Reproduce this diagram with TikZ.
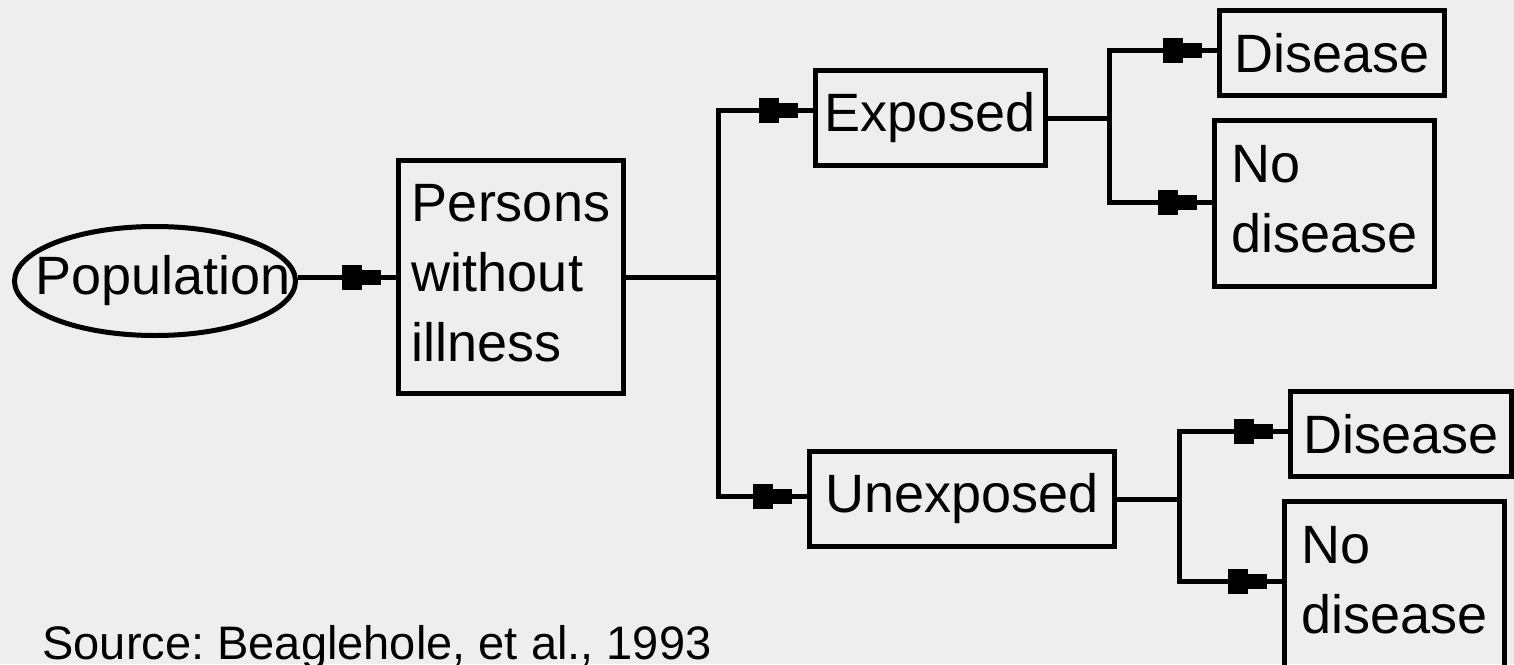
\documentclass[tikz,border=0pt]{standalone}
\usepackage{fontspec}
\setmainfont{Liberation Sans}
\usetikzlibrary{shapes.geometric,decorations.markings}
\definecolor{paper}{RGB}{238,238,238}
\frenchspacing
\begin{document}
\begin{tikzpicture}[x=0.5pt,y=-0.5pt,
  line width=2.5pt,
  every node/.style={font=\fontsize{27pt}{35pt}\selectfont, inner sep=2pt},
  pbox/.style={draw, rectangle, align=left},
  pellipse/.style={draw, ellipse, inner sep=0pt},
  % double block marker placed a short way before the end of the line
  tipped/.style={postaction={decorate}, decoration={markings,
    mark=at position -7.5pt with {
      \fill (-9.5pt,-3.75pt) rectangle (0pt,3.75pt);
      \fill (-19.5pt,-6.25pt) rectangle (-9.5pt,6.25pt);}}}]
\useasboundingbox (0,0) rectangle (1514,664);
\fill[paper] (0,0) rectangle (1514,664);
\clip (0,0) rectangle (1514,664);

% nodes
\node[pellipse, minimum width=140.5pt, minimum height=54.5pt] (pop) at (155,281)
  {\makebox[0pt]{\hspace*{8pt}Population}};
\node[pbox, minimum width=112.5pt, minimum height=116.5pt] (box1) at (511,277)
  {Persons\\without\\illness\rule[-4pt]{0pt}{4pt}};
\node[pbox, minimum width=115pt, minimum height=47.5pt] (expo) at (930,118) {Exposed};
\node[pbox, minimum width=152.5pt, minimum height=47.5pt] (unexp) at (962,499) {Unexposed};
\node[pbox, minimum width=112.5pt, minimum height=42.5pt] (dis1) at (1332,53) {Disease};
\node[pbox, minimum width=110pt, minimum height=83pt] (nodis1) at (1324.5,203.5)
  {No\\disease\rule[-5pt]{0pt}{5pt}};
\node[pbox, minimum width=110.5pt, minimum height=42.5pt] (dis2) at (1401,434) {Disease};
\node[pbox, minimum width=110pt, minimum height=83pt] (nodis2) at (1394.5,584.5)
  {No\\disease\rule[-5pt]{0pt}{5pt}};
\node[anchor=base west, font=\fontsize{23.5pt}{28pt}\selectfont, inner sep=0pt] (src) at (40,659)
  {Source: Beaglehole, et al., 1993};

% branch points
\coordinate (f1) at (718.5,277);
\coordinate (f1a) at (718.5,110.5);
\coordinate (f1b) at (718.5,496);
\coordinate (f2) at (1109.5,118);
\coordinate (f2a) at (1109.5,50.5);
\coordinate (f2b) at (1109.5,202);
\coordinate (f3) at (1179.5,499);
\coordinate (f3a) at (1179.5,431.5);
\coordinate (f3b) at (1179.5,581.5);

% connectors
\draw[tipped] (pop.east |- box1.west) -- (box1.west);
\draw (box1.east) -- (f1);
\draw[tipped] (f1) -- (f1a) -- (f1a -| expo.west);
\draw[tipped] (f1) -- (f1b) -- (f1b -| unexp.west);
\draw (expo.east) -- (f2);
\draw[tipped] (f2) -- (f2a) -- (f2a -| dis1.west);
\draw[tipped] (f2) -- (f2b) -- (f2b -| nodis1.west);
\draw (unexp.east) -- (f3);
\draw[tipped] (f3) -- (f3a) -- (f3a -| dis2.west);
\draw[tipped] (f3) -- (f3b) -- (f3b -| nodis2.west);
\end{tikzpicture}
\end{document}
